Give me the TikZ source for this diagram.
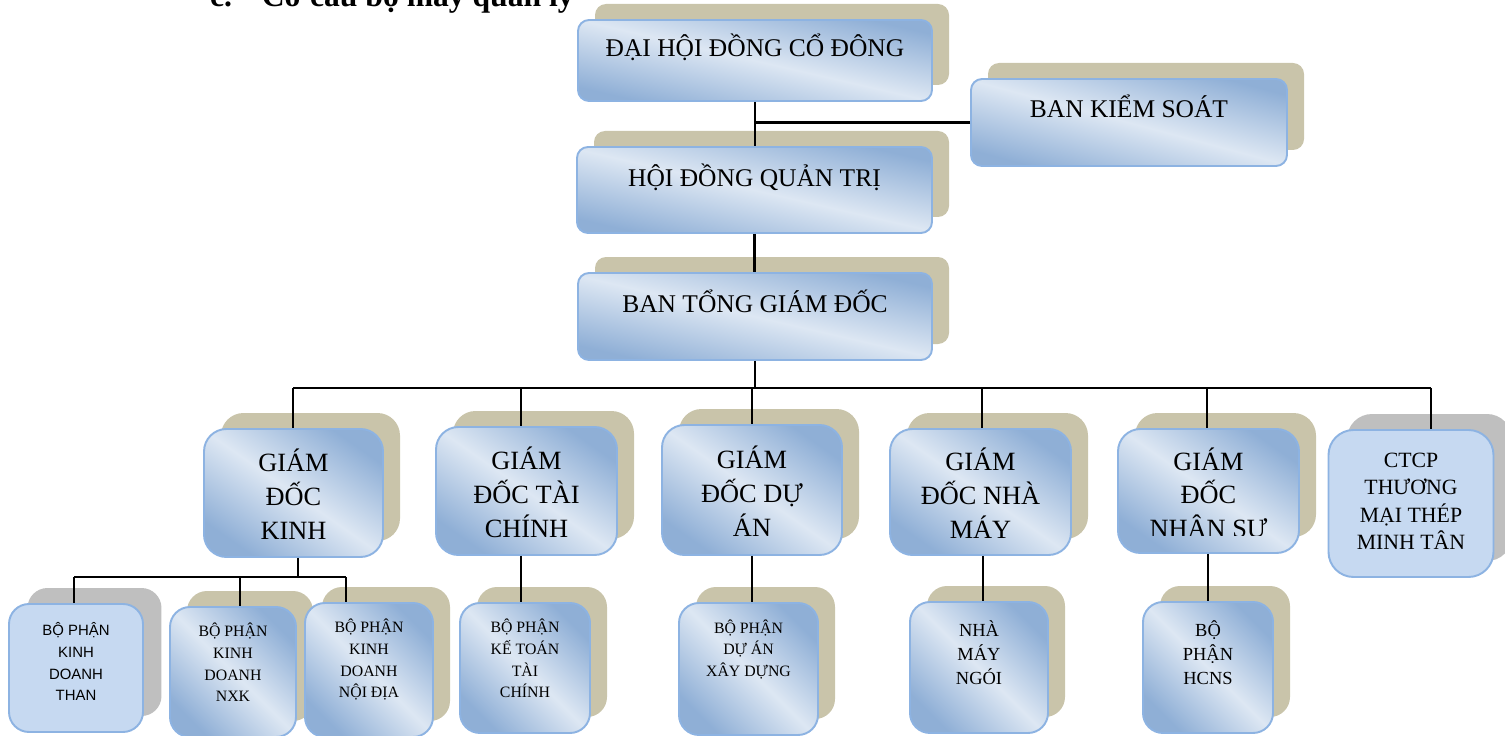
\documentclass[tikz,border=0pt]{standalone}
\usepackage{fontspec}
\setmainfont{Liberation Serif}
\newfontfamily\arialfont{Liberation Sans}
\usetikzlibrary{shadows}

\definecolor{boxdark}{HTML}{8FAFD6}
\definecolor{boxlight}{HTML}{DDE7F3}
\definecolor{boxflat}{HTML}{C6D9F1}
\definecolor{boxline}{HTML}{8DB3E2}
\definecolor{shadowtan}{HTML}{C9C4AA}
\definecolor{shadowgrey}{HTML}{BFBFBF}

\begin{document}
\begin{tikzpicture}[x=0.02cm,y=-0.02cm,line width=1.2pt,
    box/.style={draw=boxline,line width=1.1pt,top color=boxdark,bottom color=boxdark,
        middle color=boxlight,shading angle=-45,align=center,inner sep=1pt,text depth=0pt},
    flatbox/.style={draw=boxline,line width=1.1pt,fill=boxflat,align=center,inner sep=1pt,text depth=0pt},
    tanshadow/.style={general shadow={fill=shadowtan,shadow xshift=0.34cm,shadow yshift=0.32cm}},
    greyshadow/.style={general shadow={fill=shadowgrey,shadow xshift=0.37cm,shadow yshift=0.32cm}},
    wh/.style 2 args={minimum width=#1*0.02cm,minimum height=#2*0.02cm},
    headbox/.style={box,tanshadow,rounded corners=0.22cm,shading angle=-13,
        font=\fontsize{14.5}{17}\selectfont,text height=0pt,text depth=0.14cm},
    chief/.style={box,tanshadow,rounded corners=0.45cm,shading angle=-35,
        font=\fontsize{15}{19.3}\selectfont,text height=1.86cm},
    unit/.style={box,tanshadow,rounded corners=0.4cm,font=\fontsize{9}{12.3}\selectfont}
    ]
    \useasboundingbox (0,0) rectangle (1505,736);

    % heading, cut by the page edge
    \node[anchor=base west,inner sep=0pt,font=\bfseries\fontsize{18}{20}\selectfont] (title) at (209,7)
        {c.\hspace{17pt}Cơ cấu bộ máy quản lý};

    % upper levels
    \node[headbox,wh={354}{81}] (dhdcd) at (755,60.5) {ĐẠI HỘI ĐỒNG CỔ ĐÔNG};
    \node[headbox,wh={316}{87},text depth=0.18cm,shading angle=-15] (bks) at (1129,122.5) {BAN KIỂM SOÁT};
    \node[headbox,wh={355}{86},text depth=0.12cm] (hdqt) at (754.5,190) {HỘI ĐỒNG QUẢN TRỊ};
    \node[headbox,wh={354}{87}] (btgd) at (755,316.5) {BAN TỔNG GIÁM ĐỐC};

    % directors
    \node[chief,wh={179}{128}] (gdkd) at (293.5,493) {GIÁM\\ĐỐC\\KINH};
    \node[chief,wh={181}{128}] (gdtc) at (526.5,491) {GIÁM\\ĐỐC TÀI\\CHÍNH};
    \node[chief,wh={180}{130}] (gdda) at (752,490) {GIÁM\\ĐỐC DỰ\\ÁN};
    \node[chief,wh={181}{126}] (gdnm) at (980.5,492) {GIÁM\\ĐỐC NHÀ\\MÁY};
    \node[chief,wh={181}{124},text height=0.52cm] (gdns) at (1208.5,491) {GIÁM\\ĐỐC};
    \begin{scope}
        \clip (1120,500) rectangle (1297,535);
        \node[inner sep=0pt,anchor=base,font=\fontsize{15}{19.3}\selectfont] (gdnsx) at (1208.5,538) {NHÂN SỰ};
    \end{scope}
    \node[flatbox,greyshadow,rounded corners=0.5cm,wh={165}{147},font=\fontsize{12.4}{15.7}\selectfont,text height=1.86cm]
        (ctcp) at (1411,503.5) {CTCP\\THƯƠNG\\MẠI THÉP\\MINH TÂN};

    % departments
    \node[flatbox,greyshadow,rounded corners=0.4cm,wh={134}{128},font=\arialfont\fontsize{8.5}{12.5}\selectfont,text height=1.32cm]
        (bpthan) at (76,668) {BỘ PHẬN\\KINH\\DOANH\\THAN};
    \node[unit,wh={126}{130},text height=1.19cm] (bpnxk) at (233,672) {BỘ PHẬN\\KINH\\DOANH\\NXK};
    \node[unit,wh={128}{134},text height=1.11cm] (bpnd) at (369,670) {BỘ PHẬN\\KINH\\DOANH\\NỘI ĐỊA};
    \node[unit,wh={130}{130},text height=1.19cm] (bpkt) at (525,668) {BỘ PHẬN\\KẾ TOÁN\\TÀI\\CHÍNH};
    \node[unit,wh={139}{132},text height=0.29cm] (bpda) at (748.5,669) {BỘ PHẬN\\DỰ ÁN\\XÂY DỰNG};
    \node[unit,wh={138}{131},font=\fontsize{10.5}{13.7}\selectfont,text height=0.67cm] (nmn) at (979,667.5) {NHÀ\\MÁY\\NGÓI};
    \node[unit,wh={130}{131},font=\fontsize{10.5}{13.7}\selectfont,text height=0.67cm] (hcns) at (1208,667.5) {BỘ\\PHẬN\\HCNS};

    % connectors
    \draw (dhdcd.south) -- (dhdcd.south |- hdqt.north);
    \draw (bks.west) -- (bks.west -| dhdcd.south);
    \draw (hdqt.south) -- (hdqt.south |- btgd.north);
    \coordinate (busl) at (293,388);
    \coordinate (busr) at (1431,388);
    \draw (btgd.south) -- (btgd.south |- busl);
    \draw (busl) -- (busr);
    \foreach \n/\x in {gdkd/293,gdtc/521,gdda/752,gdnm/982,gdns/1207,ctcp/1431}
        \draw (\x,388) coordinate (top\n) -- (top\n |- \n.north);

    \coordinate (subl) at (74,577);
    \coordinate (subr) at (346,577);
    \draw ([xshift=0.09cm]gdkd.south) -- ++(0,20);
    \draw (subl) -- (subr);
    \foreach \n/\x in {bpthan/74,bpnxk/240,bpnd/346}
        \draw (\x,577) coordinate (top\n) -- (top\n |- \n.north);

    \foreach \a/\b/\x in {gdtc/bpkt/521,gdda/bpda/752,gdnm/nmn/983,gdns/hcns/1208}
        \draw (\x,0) coordinate (x\b) (x\b |- \a.south) -- (x\b |- \b.north);
\end{tikzpicture}
\end{document}
